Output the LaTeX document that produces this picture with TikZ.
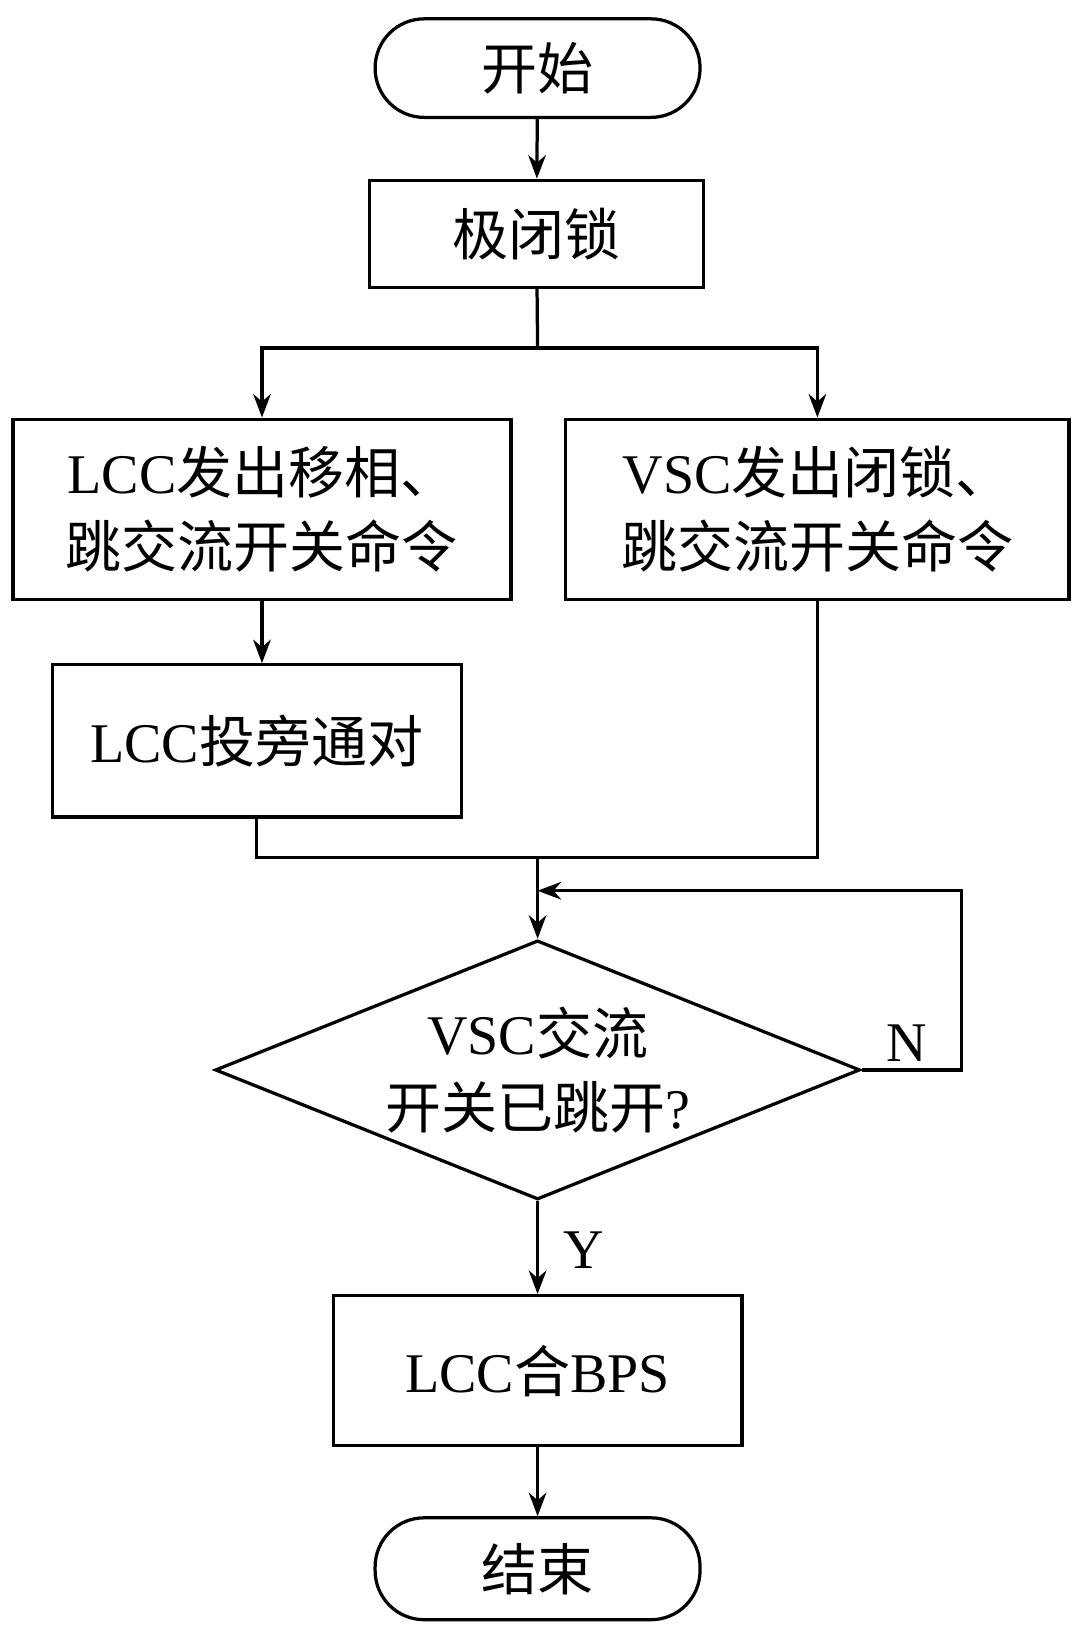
\documentclass[tikz,border=0pt]{standalone}
\usepackage{fontspec}
\setmainfont{Liberation Serif}
\newfontfamily\cjk{Noto Sans CJK SC}
\usetikzlibrary{shapes.geometric,arrows.meta}
\tikzset{
  line/.style={line width=2.2pt},
  arr/.style={line, -{Stealth[length=16pt,width=12pt]}},
  box/.style={draw, line width=2.2pt, font=\fontsize{38}{50}\selectfont, align=center, inner sep=0pt},
  term/.style={box, rounded corners=1.17cm},
  dec/.style={draw, diamond, line width=2.2pt, font=\fontsize{38}{50}\selectfont, align=center, inner sep=0pt}
}
\newcommand{\zh}[1]{{\cjk #1}}
\begin{document}
\begin{tikzpicture}[x=0.025cm,y=-0.025cm]
  \useasboundingbox (0,0) rectangle (1030,1565);
  % terminals and process boxes
  \node[term, minimum width=7.75cm, minimum height=2.35cm] (start) at (513,65) {\zh{开始}};
  \node[box, minimum width=7.98cm, minimum height=2.55cm] (lock) at (512,223) {\zh{极闭锁}};
  \node[box, minimum width=11.88cm, minimum height=4.3cm] (lcc) at (250,486) {LCC\zh{发出移相、}\\\zh{跳交流开关命令}};
  \node[box, minimum width=12cm, minimum height=4.3cm] (vsc) at (780,486) {VSC\zh{发出闭锁、}\\\zh{跳交流开关命令}};
  \node[box, minimum width=9.75cm, minimum height=3.63cm] (byp) at (245,707) {LCC\zh{投旁通对}};
  % decision
  \node[dec, minimum width=15.38cm, minimum height=6.18cm, aspect=2.49] (chk) at (513,1021) {VSC\zh{交流}\\\zh{开关已跳开}?};
  \node[box, minimum width=9.75cm, minimum height=3.58cm] (bps) at (513,1308) {LCC\zh{合}BPS};
  \node[term, minimum width=7.75cm, minimum height=2.43cm] (stop) at (513,1497) {\zh{结束}};
  % helper points
  \coordinate (split) at (513,332);
  \coordinate (join) at (513,818);
  \coordinate (loop) at (513,850);
  % connectors
  \draw[arr] (start) -- (lock);
  \draw[line] (lock) -- (split);
  \draw[arr] (split) -| (lcc);
  \draw[arr] (split) -| (vsc);
  \draw[arr] (lcc) -- (lcc|-byp.north);
  \draw[line] (byp.south) |- (join);
  \draw[line] (vsc.south) |- (join);
  \draw[arr] (join) -- (chk.north);
  \draw[arr] (chk.east) -- ++(95,0) |- (loop);
  \node[font=\fontsize{38}{46}\selectfont] (nlab) at (865,995) {N};
  \draw[arr] (chk.south) -- (bps);
  \node[font=\fontsize{38}{46}\selectfont] (ylab) at (557,1193) {Y};
  \draw[arr] (bps) -- (stop);
\end{tikzpicture}
\end{document}
